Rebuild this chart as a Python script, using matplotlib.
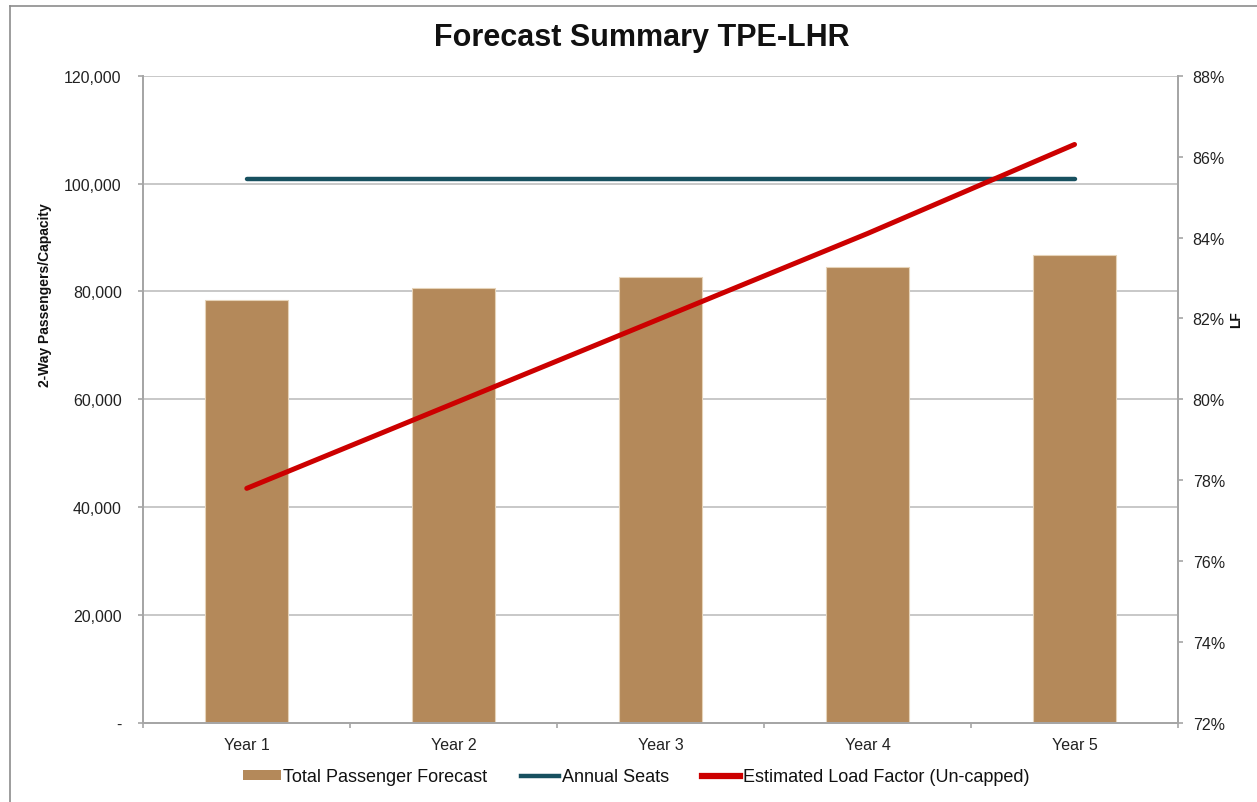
"""
Forecast Summary TPE-LHR - bars (passengers) + seats line + load factor line
"""

import matplotlib
matplotlib.use('Agg')
import matplotlib.pyplot as plt
from matplotlib.lines import Line2D
from matplotlib.patches import Patch
from matplotlib.ticker import FuncFormatter, FixedLocator

plt.rcParams['font.family'] = ['Liberation Sans', 'DejaVu Sans']

# data
years = ['Year 1', 'Year 2', 'Year 3', 'Year 4', 'Year 5']
passengers = [78400, 80600, 82700, 84600, 86800]
seats = [100800, 100800, 100800, 100800, 100800]
load_factor = [77.8, 79.9, 82.0, 84.1, 86.3]   # percent

left_ticks = [0, 20000, 40000, 60000, 80000, 100000, 120000]
right_ticks = [72, 74, 76, 78, 80, 82, 84, 86, 88]

bar_color = '#B4895A'
seat_color = '#17505F'
lf_color = '#CC0000'
grid_color = '#BFBFBF'
axis_color = '#A6A6A6'
text_color = '#222222'

W, H = 1257, 803
fig = plt.figure(figsize=(W / 100, H / 100), dpi=100)

# plot area in pixels
x0, x1, y0, y1 = 143.3, 1178, 724, 76.7
ax = fig.add_axes([x0 / W, 1 - y0 / H, (x1 - x0) / W, (y0 - y1) / H])
ax2 = ax.twinx()

x = list(range(len(years)))

ax.bar(x, passengers, width=0.4, color=bar_color, edgecolor='#E6D3B8',
       linewidth=0.8, zorder=2)
ax.plot(x, seats, color=seat_color, lw=3.2, solid_capstyle='round', zorder=3)
ax2.plot(x, load_factor, color=lf_color, lw=3.6, solid_capstyle='round', zorder=4)

ax.set_xlim(-0.5, len(years) - 0.5)
ax.set_ylim(0, 120000)
ax2.set_ylim(72, 88)

# gridlines
ax.yaxis.set_major_locator(FixedLocator(left_ticks))
ax.grid(axis='y', color=grid_color, lw=1.2, zorder=0)
ax.set_axisbelow(True)

ax.yaxis.set_major_formatter(FuncFormatter(lambda v, p: '-' if v == 0 else f'{v:,.0f}'))
ax2.yaxis.set_major_locator(FixedLocator(right_ticks))
ax2.yaxis.set_major_formatter(FuncFormatter(lambda v, p: f'{v:.0f}%'))

for a in (ax, ax2):
    for s in a.spines.values():
        s.set_color(axis_color)
        s.set_linewidth(1.3)
    a.spines['top'].set_visible(False)

ax.tick_params(axis='y', direction='out', length=3.6, width=1.2, color=axis_color,
               pad=12, labelsize=11.5, labelcolor=text_color)
ax2.tick_params(axis='y', direction='out', length=3.6, width=1.2, color=axis_color,
                pad=7, labelsize=11.5, labelcolor=text_color)

ax.set_xticks(x)
ax.set_xticklabels(years)
ax.set_xticks([i - 0.5 for i in range(len(years) + 1)], minor=True)
ax.tick_params(axis='x', which='major', length=0, pad=10, labelsize=11.5,
               labelcolor=text_color)
ax.tick_params(axis='x', which='minor', direction='out', length=3.6, width=1.2,
               color=axis_color)

# axis titles
fig.text(45 / W, 1 - 295 / H, '2-Way Passengers/Capacity', rotation=90,
         ha='center', va='center', fontsize=10, fontweight='bold', color='#111111')
fig.text(1236 / W, 1 - 320 / H, 'LF', rotation=90, ha='center', va='center',
         fontsize=10, fontweight='bold', color='#111111')

fig.text(642 / W, 1 - 38 / H, 'Forecast Summary TPE-LHR', ha='center', va='center',
         fontsize=22, fontweight='bold', color='#111111')

# legend
handles = [Patch(facecolor=bar_color, edgecolor='none'),
           Line2D([], [], color=seat_color, lw=3.2),
           Line2D([], [], color=lf_color, lw=4.5)]
labels = ['Total Passenger Forecast', 'Annual Seats', 'Estimated Load Factor (Un-capped)']
leg = fig.legend(handles, labels, loc='center', bbox_to_anchor=(636 / W, 1 - 778 / H),
                 ncol=3, frameon=False, handlelength=2.1, handleheight=0.45,
                 handletextpad=0.15, columnspacing=1.85,
                 prop={'size': 13})
for t in leg.get_texts():
    t.set_color('#111111')

# outer chart border (left and top edges visible)
fig.add_artist(Line2D([9.5 / W, 9.5 / W], [0, 1 - 6.5 / H], color='#8C8C8C', lw=1.2))
fig.add_artist(Line2D([9.5 / W, 1], [1 - 6.5 / H, 1 - 6.5 / H], color='#8C8C8C', lw=1.2))

fig.savefig('out.png', dpi=100, facecolor='white')
